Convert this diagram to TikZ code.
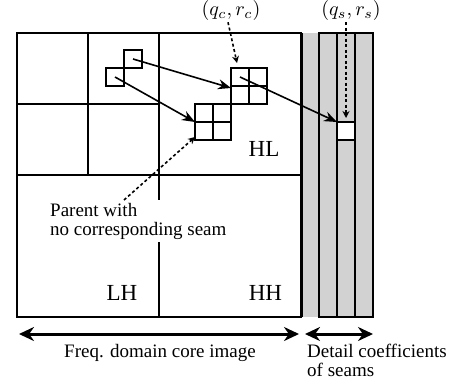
\documentclass[tikz,border=0pt]{standalone}
\usepackage{fontspec}
\setmainfont{Liberation Serif}
\usetikzlibrary{arrows.meta}
\newcommand{\bigmath}[1]{\scalebox{2.0}{$#1$}}
\begin{document}
\begin{tikzpicture}[x=1pt,y=-1pt,
  gridline/.style={line width=1.6pt},
  cell/.style={draw, line width=1.5pt, minimum size=18pt, inner sep=0pt, outer sep=0pt, anchor=north west},
  arr/.style={line width=1.6pt, -{Stealth[length=13pt,width=10pt]}},
  darr/.style={line width=1.6pt, dash pattern=on 3pt off 2.5pt, -{Stealth[length=7pt,width=7pt]}},
  bigarr/.style={line width=3pt, {Stealth[length=15pt,width=14pt]}-{Stealth[length=15pt,width=14pt]}},
  txt/.style={font=\fontsize{19}{19}\selectfont, inner sep=3pt},
  quad/.style={font=\fontsize{23}{23}\selectfont, inner sep=0pt, anchor=base},
  mth/.style={inner sep=2pt}
]
\useasboundingbox (0,0) rectangle (460,386);
% seam strips
\fill[gray!35] (301,33) rectangle (373,317);
\foreach \x in {319,337,355} \draw[gridline] (\x,33) rectangle (\x+18,317);
\draw[line width=3pt] (301,33) -- (301,317);
% main image
\draw[gridline] (17,33) rectangle (301,317);
\draw[gridline] (159,33) -- (159,317);
\draw[gridline] (17,175) -- (301,175);
\draw[gridline] (88,33) -- (88,175);
\draw[gridline] (17,104) -- (159,104);
% seam cell
\node[cell, fill=white] (seam) at (337,122) {};
% parent squares
\node[cell] (sqA) at (124,50) {};
\node[cell] (sqB) at (106,68) {};
% upper child block
\node[cell] (ub1) at (231,68) {};
\node[cell] (ub2) at (249,68) {};
\node[cell] (ub3) at (231,86) {};
\node[cell] (ub4) at (249,86) {};
% lower child block
\node[cell] (lb1) at (195,104) {};
\node[cell] (lb2) at (213,104) {};
\node[cell] (lb3) at (195,122) {};
\node[cell] (lb4) at (213,122) {};
% quadrant labels
\node[quad] (hl) at (264,156) {HL};
\node[quad] (lh) at (122,300.5) {LH};
\node[quad] (hh) at (265.5,300.5) {HH};
% parent text
\node[txt, fill=white, align=left, anchor=north west] (par) at (47,200) {Parent with\\no corresponding seam};
% math labels
\node[mth] (qc) at (231,10) {\bigmath{(q_c,r_c)}};
\node[mth] (qs) at (351,10) {\bigmath{(q_s,r_s)}};
% arrows
\draw[arr] (sqA.center) -- ([yshift=-2pt]ub1.south west);
\draw[arr] (sqB.center) -- (lb1.south west);
\draw[arr] (ub1.center) -- (seam.north west);
\draw[darr] (par.north -| sqB.east) -- ([yshift=3pt]lb3.south west);
\draw[darr] ([xshift=-3pt]qc.south) -- ([xshift=6pt,yshift=5pt]ub1.north west);
\draw[darr] (seam.north |- qs.south) -- ([yshift=4pt]seam.north);
% bottom arrows
\coordinate (fl) at (19,334);
\coordinate (fr) at (299,334);
\coordinate (dl) at (305,334);
\coordinate (dr) at (373,334);
\draw[bigarr] (fl) -- (fr);
\draw[bigarr] (dl) -- (dr);
\node[txt, anchor=base west] (freq) at (61,357) {Freq. domain core image};
\node[txt, align=left, anchor=north west] (det) at (304,341) {Detail coefficients\\of seams};
\end{tikzpicture}
\end{document}
